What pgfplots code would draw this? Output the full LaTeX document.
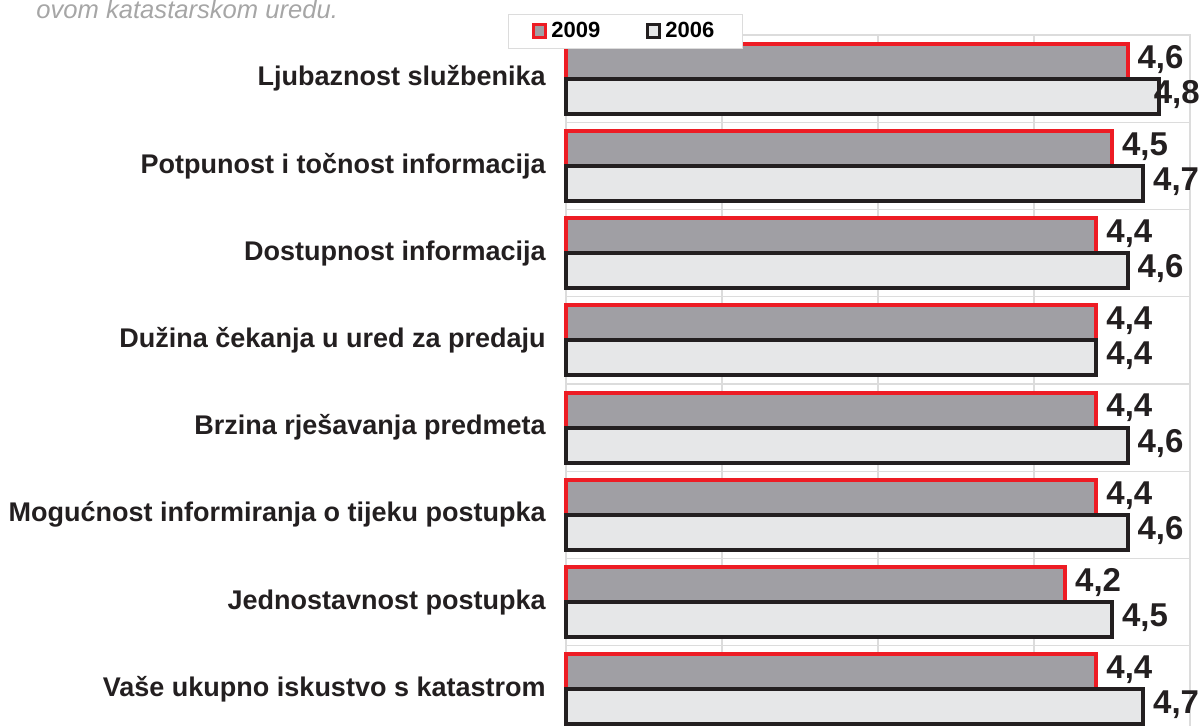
\documentclass[border=0pt]{standalone}
\usepackage{fontspec}
\setmainfont{Liberation Sans}
\usepackage{pgfplots}
\pgfplotsset{compat=1.18}
\usepackage{pgfplotstable}
\definecolor{redb}{HTML}{ED1C24}
\definecolor{blkb}{HTML}{231F20}
\definecolor{gA}{HTML}{A09FA4}
\definecolor{gB}{HTML}{E6E7E8}
\definecolor{gridc}{HTML}{DCDCDC}
\definecolor{topc}{HTML}{A6A6A6}

% y = position of the bar (category index -/+ 0.2), v = value
\pgfplotstableread{
y v
-0.2 4.6
0.8 4.5
1.8 4.4
2.8 4.4
3.8 4.4
4.8 4.4
5.8 4.2
6.8 4.4
}\tabA
\pgfplotstableread{
y v
0.2 4.8
1.2 4.7
2.2 4.6
3.2 4.4
4.2 4.6
5.2 4.6
6.2 4.5
7.2 4.7
}\tabB

\begin{document}
\begin{tikzpicture}
\useasboundingbox (0,0) rectangle (600pt,363pt);
\clip (0,0) rectangle (600pt,363pt);
\node[anchor=base west, inner sep=0pt, font=\fontsize{12.8}{15}\selectfont\itshape, text=topc] at (18pt,353.5pt) {ovom katastarskom uredu.};
\begin{axis}[
  at={(283pt,-3.5pt)}, anchor=south west,
  scale only axis, width=312pt, height=349pt,
  xbar, bar width=0.4,
  xmin=0, xmax=4, ymin=-0.5, ymax=7.5, y dir=reverse,
  xtick={0,1,2,3,4}, xticklabels={},
  ytick={0,1,2,3,4,5,6,7},
  yticklabels={Ljubaznost službenika,
    Potpunost i točnost informacija\hspace{4pt},
    Dostupnost informacija\hspace{4pt},
    Dužina čekanja u ured za predaju,
    Brzina rješavanja predmeta,
    Mogućnost informiranja o tijeku postupka,
    Jednostavnost postupka,
    Vaše ukupno iskustvo s katastrom},
  minor ytick={0.5,1.5,2.5,3.5,4.5,5.5,6.5},
  xmajorgrids, yminorgrids,
  major grid style={gridc, line width=0.6pt},
  minor grid style={gridc, line width=0.6pt},
  major tick length=0pt, minor tick length=0pt,
  axis line style={gridc, line width=0.6pt},
  yticklabel style={font=\fontsize{13.5}{16}\selectfont\bfseries, text=blkb, anchor=east, inner sep=0pt, xshift=-10pt},
  clip=false,
  nodes near coords, point meta=explicit,
  every node near coord/.append style={font=\fontsize{16.5}{19}\selectfont\bfseries, anchor=west, inner sep=0pt, xshift=4pt, yshift=1pt, text=blkb},
  /pgf/number format/.cd, fixed, fixed zerofill, precision=1, use comma, assume math mode=true, /pgfplots/.cd,
  legend columns=2,
  legend style={at={(-0.093,1.030)}, anchor=north west, draw=gridc, fill=white,
    inner xsep=12pt, inner ysep=2pt, font=\fontsize{11}{12}\selectfont\bfseries,
    /tikz/every even column/.append style={column sep=21pt}},
  legend image code/.code={\draw[#1, line width=1.5pt] (0pt,-3pt) rectangle (6pt,3.5pt);},
]
\addplot[bar shift=0pt, fill=gA, draw=redb, line width=2pt] table[x expr=\thisrow{v}-1, y=y, meta=v] {\tabA};
\addlegendentry{2009}
\addplot[bar shift=0pt, fill=gB, draw=blkb, line width=2pt,
  coordinate style/.condition={\coordindex==0}{xshift=-7.5pt}] table[x expr=\thisrow{v}-1, y=y, meta=v] {\tabB};
\addlegendentry{2006}
\end{axis}
\end{tikzpicture}
\end{document}
